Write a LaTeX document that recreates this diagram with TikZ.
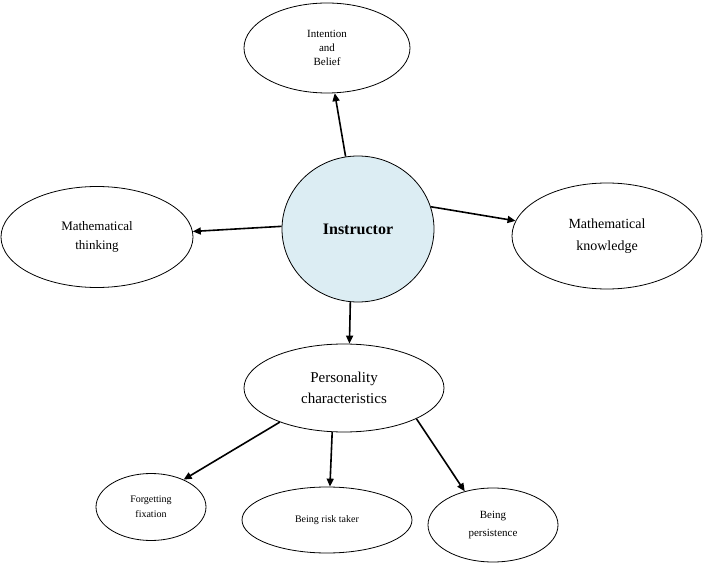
\documentclass[tikz,border=0pt]{standalone}
\usepackage{fontspec}
\setmainfont{Liberation Serif}
\usetikzlibrary{arrows.meta,shapes.geometric}
\definecolor{instfill}{HTML}{DCEDF3}
\begin{document}
\begin{tikzpicture}[x=1pt,y=-1pt,
  el/.style={draw,ellipse,line width=0.8pt,inner sep=0pt,align=center},
  arr/.style={line width=1.6pt,-{Triangle[length=8pt,width=7pt]}}]
\useasboundingbox (0,0) rectangle (705,580);
\node[el,minimum width=166,minimum height=90,font=\fontsize{11}{14}\selectfont] (int) at (327,48) {Intention\\and\\ Belief};
\node[el,fill=instfill,minimum width=152,minimum height=146,font=\fontsize{16}{19}\selectfont\bfseries] (inst) at (358,229) {Instructor};
\node[el,minimum width=192,minimum height=101,font=\fontsize{13}{19}\selectfont] (mt) at (97,237) {Mathematical\\thinking};
\node[el,minimum width=190,minimum height=106,font=\fontsize{14}{22}\selectfont] (mk) at (607,236) {Mathematical\\knowledge};
\node[el,minimum width=200,minimum height=88,font=\fontsize{15}{21}\selectfont] (per) at (344,388) {Personality\\characteristics};
\node[el,minimum width=110,minimum height=67,font=\fontsize{10}{15}\selectfont] (fg) at (151,507) {Forgetting\\fixation};
\node[el,minimum width=170,minimum height=66,font=\fontsize{10}{13}\selectfont] (rt) at (327,520) {Being risk taker};
\node[el,minimum width=130,minimum height=74,font=\fontsize{11}{18}\selectfont] (bp) at (493,525) {Being\\persistence};
\draw[arr] (inst) -- (int);
\draw[arr] (inst.178) -- (mt);
\draw[arr] (inst.17) -- (mk);
\draw[arr] (inst.-96) -- (per.83);
\draw[arr] (per.-152) -- (fg.40);
\draw[arr] (per.-105) -- (rt.85);
\draw[arr] (per.-23) -- (bp.130);
\end{tikzpicture}
\end{document}
